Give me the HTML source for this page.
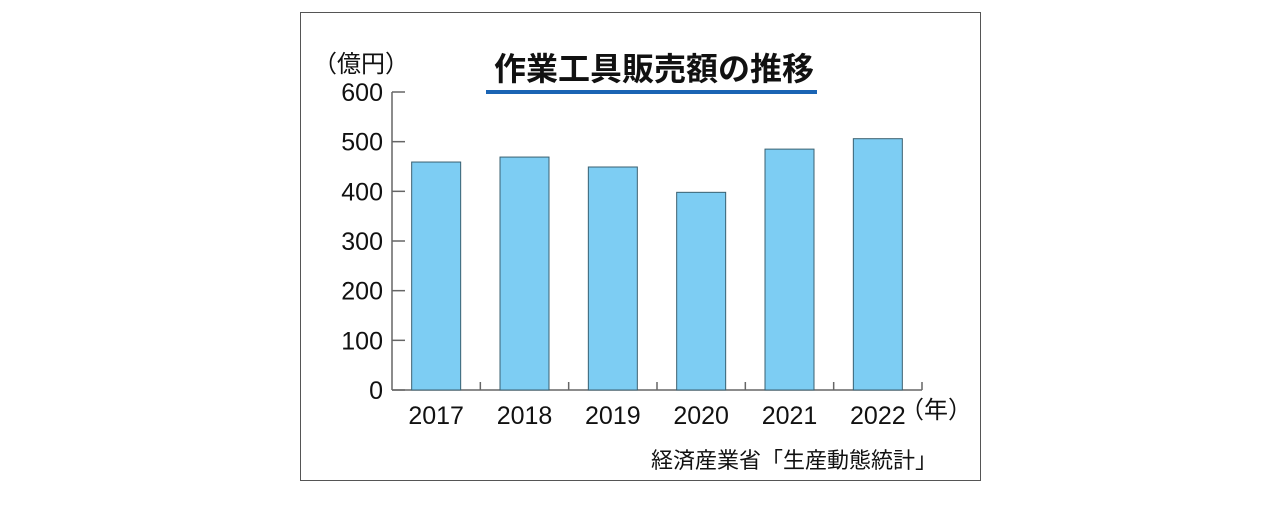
<!DOCTYPE html>
<html><head><meta charset="utf-8"><style>
html,body{margin:0;padding:0;background:#fff;}
body{width:1280px;height:500px;overflow:hidden;font-family:"Liberation Sans","Noto Sans CJK JP",sans-serif;}
</style></head><body>
<svg width="1280" height="500" xmlns="http://www.w3.org/2000/svg">
<rect x="300.5" y="12.5" width="680" height="468" fill="#fff" stroke="#555" stroke-width="1"/>
<text x="654" y="80" font-size="32" font-weight="bold" text-anchor="middle" fill="#111" font-family="Liberation Sans,Noto Sans CJK JP,sans-serif">作業工具販売額の推移</text>
<rect x="486" y="90" width="331" height="4" fill="#1a64b4"/>
<text x="313" y="72" font-size="24" fill="#111" font-family="Liberation Sans,Noto Sans CJK JP,sans-serif">（億円）</text>
<text x="900" y="418" font-size="24" fill="#111" font-family="Liberation Sans,Noto Sans CJK JP,sans-serif">（年）</text>
<text x="937" y="468" font-size="22" text-anchor="end" fill="#111" font-family="Liberation Sans,Noto Sans CJK JP,sans-serif">経済産業省「生産動態統計」</text>
<g id="axes"></g>
<g id="bars"></g>
</svg>
<script>
const categories = ["2017","2018","2019","2020","2021","2022"];
const values = [459, 469, 449, 398, 485, 506];
const yTicks = [0,100,200,300,400,500,600];
const NS="http://www.w3.org/2000/svg";
const x0=392, x1=922, yZero=390, yTop=92, yMax=600;
const band=(x1-x0)/categories.length, bw=49;
function y(v){return yZero-(v/yMax)*(yZero-yTop);}
function xc(i){return x0+band*(i+0.5);}
function mk(tag,attrs,parent){const e=document.createElementNS(NS,tag);for(const k in attrs)e.setAttribute(k,attrs[k]);parent.appendChild(e);return e;}
const ax=document.getElementById('axes'), bg=document.getElementById('bars');
let e=mk('line',{x1:x0,y1:yTop,x2:x0,y2:yZero,stroke:'#666','stroke-width':1.5},ax);


e=mk('line',{x1:x0,y1:yZero,x2:x1,y2:yZero,stroke:'#666','stroke-width':1.5},ax);


yTicks.forEach(v=>{
  const t=mk('line',{x1:x0,y1:y(v),x2:x0+13,y2:y(v),stroke:'#666','stroke-width':1.5},ax);
  
  
  const l=mk('text',{x:383,y:y(v)+9,'font-size':25,'text-anchor':'end',fill:'#111'},ax);
  l.textContent=v;
  
  
});
for(let i=1;i<=categories.length;i++){
  const t=mk('line',{x1:x0+band*i,y1:yZero,x2:x0+band*i,y2:yZero-8,stroke:'#666','stroke-width':1.5},ax);
  
  
}
categories.forEach((c,i)=>{
  const r=mk('rect',{x:xc(i)-bw/2,y:y(values[i]),width:bw,height:yZero-y(values[i]),fill:'#7dcdf3',stroke:'#3a6070','stroke-width':1},bg);
  
  
  const l=mk('text',{x:xc(i),y:424,'font-size':25,'text-anchor':'middle',fill:'#111'},bg);
  l.textContent=c;
  
  
});
</script>
</body></html>
